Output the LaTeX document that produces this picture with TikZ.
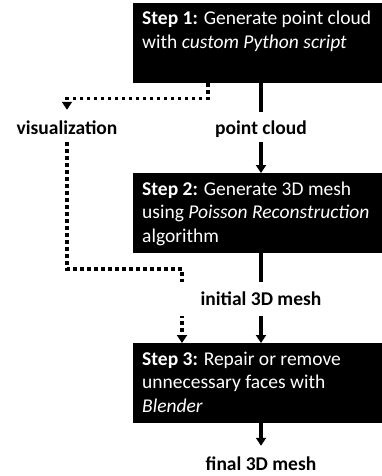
\documentclass[tikz,border=0pt]{standalone}
\usepackage{fontspec}
\setmainfont{Carlito}
\usetikzlibrary{arrows.meta,backgrounds}
\begin{document}
\begin{tikzpicture}[x=1pt,y=-1pt,
  stepbox/.style={fill=black, draw=none, inner sep=0pt, minimum width=249pt, minimum height=80pt, anchor=north west},
  steptext/.style={text=white, inner sep=0pt, anchor=base west, font=\fontsize{19.5}{23.5}\selectfont},
  lbl/.style={fill=white, inner sep=0pt, anchor=base, font=\fontsize{19.5}{23.5}\selectfont\bfseries, text height=23pt, text depth=7pt},
  flow/.style={line width=3.5pt, -{Triangle[width=10pt,length=8pt]}},
  side/.style={line width=3.5pt, dash pattern=on 3.5pt off 3.5pt, -{Triangle[width=10pt,length=8pt]}}
]
\useasboundingbox (0,0) rectangle (382,476);
% step boxes
\node[stepbox] (step1) at (133,3) {};
\node[stepbox] (step2) at (133,173) {};
\node[stepbox] (step3) at (133,343) {};
\node[steptext] (t1) at (142,25) {\parbox[t]{240pt}{\raggedright\textbf{Step 1:} Generate point cloud\\with \textit{custom Python script}}};
\node[steptext] (t2) at (142,195) {\parbox[t]{240pt}{\raggedright\textbf{Step 2:} Generate 3D mesh\\using \textit{Poisson Reconstruction}\\algorithm}};
\node[steptext] (t3) at (142,365) {\parbox[t]{240pt}{\raggedright\textbf{Step 3:} Repair or remove\\unnecessary faces with\\\textit{Blender}}};
% labels
\node[lbl, minimum width=120pt] (pc) at (261,135) {point cloud};
\node[lbl, text height=25pt] (vis) at (67,135) {visualization};
\node[lbl, minimum width=170pt, text height=23pt, text depth=11pt] (mesh) at (261,305) {initial 3D mesh};
\node[lbl, fill=none, text height=24pt, text depth=5pt] (final) at (261,470) {final 3D mesh};
% connectors
\begin{pgfonlayer}{background}
\draw[flow] (step1.south -| pc) -- (step2.north -| pc);
\draw[flow] (step2.south -| mesh) -- (step3.north -| mesh);
\draw[flow] (step3.south -| final) -- (final.north);
\draw[side] ([xshift=75pt]step1.south west) -- ++(0,15) -| (vis.north);
\draw[side] (vis.south) -- ++(0,127) -| ([xshift=49pt]step3.north west);
\end{pgfonlayer}
\end{tikzpicture}
\end{document}
